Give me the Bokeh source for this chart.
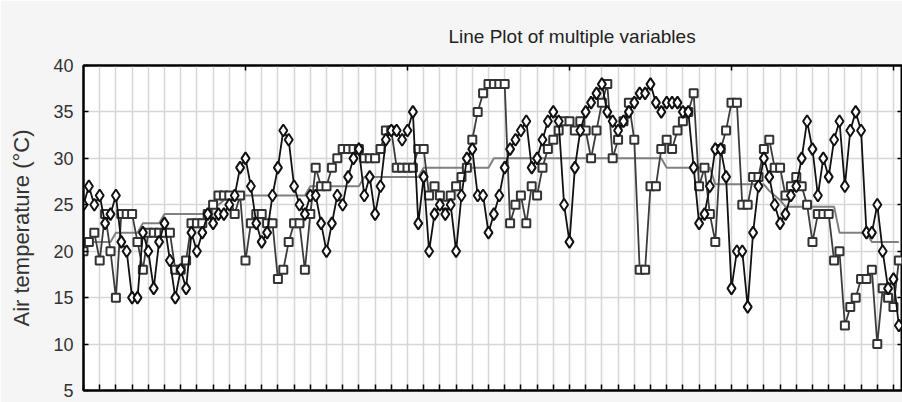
from bokeh.plotting import figure
from bokeh.models import LinearAxis, SingleIntervalTicker, FixedTicker, Range1d
from bokeh.embed import file_html
from bokeh.resources import INLINE

# ---- data ----
series_diamond = [
    25, 27, 25, 26, 23, 24, 26, 21, 20, 15, 15, 22, 20, 16, 21, 23, 19, 15, 18, 16,
    22, 20, 22, 24, 23, 24, 24, 25, 26, 29, 30, 27, 23, 21, 22, 26, 29, 33, 32, 27,
    25, 24, 26, 26, 23, 20, 23, 26, 25, 28, 30, 31,
    26, 28, 24, 27, 32, 33, 33, 32, 33, 35, 23, 28, 20, 24, 25, 24, 25, 20, 26, 30,
    31, 26, 26, 22, 24, 26, 29, 31, 32, 33, 34, 29, 30, 32, 34, 35, 34, 25, 21, 29,
    33, 35, 36, 37, 38, 35, 34, 33, 34, 35,
    36, 37, 37, 38, 36, 35, 36, 36, 36, 35, 35, 29, 23, 24, 27, 31, 31, 28, 16, 20,
    20, 14, 22, 27, 30, 28, 25, 23, 24, 26, 27, 30, 34, 31, 26, 30, 28, 32, 34, 27,
    33, 35, 33, 22, 22, 25, 20, 16, 17, 12,
]
series_square = [
    20, 21, 22, 19, 24, 20, 15, 24, 24, 24, 21, 18, 22, 22, 22, 22, 22, 18, 18, 19,
    23, 23, 23, 24, 25, 26, 26, 26, 24, 26, 19, 23, 24, 24, 23, 23, 17, 18, 21, 23,
    23, 18, 24, 29, 27, 27, 29, 30, 31, 31, 31, 31,
    30, 30, 30, 31, 33, 33, 29, 29, 29, 29, 31, 31, 26, 27, 26, 25, 26, 27, 28, 29,
    32, 35, 37, 38, 38, 38, 38, 23, 25, 26, 23, 27, 26, 29, 31, 32, 33, 34, 34, 33,
    34, 33, 30, 33, 36, 38, 30, 32, 34, 36,
    32, 18, 18, 27, 27, 31, 32, 31, 33, 34, 35, 37, 27, 29, 24, 21, 31, 33, 36, 36,
    25, 25, 28, 28, 31, 32, 29, 29, 26, 27, 28, 27, 25, 21, 24, 24, 24, 19, 20, 12,
    14, 15, 17, 17, 18, 10, 16, 15, 14, 19,
]
series_mean = (
    [21] * 6 + [22] * 5 + [23] * 4 + [24] * 8 + [24.5, 25, 25, 25.5]
    + [26] * 15 + [27] * 10 + [28] * 11 + [29] * 13 + [30] * 32 + [29] * 9
    + [27.2] * 10 + [26.5, 26, 25.5] + [24.8] * 10 + [22] * 6 + [21] * 6
)
days = list(range(len(series_diamond)))

y_ticks_step = 5
title_text = "Line Plot of multiple variables"
y_label = "Air temperature (°C)"

FONT = "Liberation Sans"
X_MAX = 151.67

p = figure(
    width=902, height=402,
    x_range=Range1d(0, X_MAX), y_range=Range1d(5, 40),
    output_backend="svg", toolbar_location=None,
    min_border_left=83, min_border_right=0, min_border_top=65, min_border_bottom=12,
    background_fill_color="white", border_fill_color="#f5f5f5",
)
p.outline_line_color = "black"
p.outline_line_width = 2

# title
p.title.text = title_text
p.title.text_font = FONT
p.title.text_font_size = "19px"
p.title.text_font_style = "normal"
p.title.text_color = "#222222"
p.title.align = "left"
p.title.offset = 365
p.title.standoff = 38

# bottom axis: ticks only (its labels are cut off in the reference)
grid_ticker = SingleIntervalTicker(interval=3, num_minor_ticks=0)
p.xaxis.ticker = FixedTicker(ticks=[], minor_ticks=list(range(0, 153, 3)))
p.xgrid.ticker = grid_ticker
p.xaxis.minor_tick_in = 6
p.xaxis.minor_tick_out = 0
p.xaxis.minor_tick_line_color = "black"
p.xaxis.minor_tick_line_width = 1.5
p.xaxis.major_label_standoff = 0
p.xaxis.axis_line_width = 2
p.xaxis.axis_line_color = "black"

# left axis
yt = SingleIntervalTicker(interval=y_ticks_step, num_minor_ticks=0)
p.yaxis.ticker = yt
p.ygrid.ticker = yt
p.yaxis.major_tick_in = 5
p.yaxis.major_tick_out = 0
p.yaxis.minor_tick_line_color = None
p.yaxis.major_label_standoff = 10
p.yaxis.major_label_text_font = FONT
p.yaxis.major_label_text_font_size = "18px"
p.yaxis.major_label_text_color = "#333333"
p.yaxis.axis_label = y_label
p.yaxis.axis_label_text_font = FONT
p.yaxis.axis_label_text_font_size = "22px"
p.yaxis.axis_label_text_font_style = "normal"
p.yaxis.axis_label_text_color = "#333333"
p.yaxis.axis_label_standoff = 16
p.yaxis.axis_line_width = 2
p.yaxis.major_tick_line_width = 1.5

# top axis with sparse tick marks only
top = LinearAxis(ticker=FixedTicker(ticks=[], minor_ticks=[30, 60, 90, 120, 150]),
                 minor_tick_in=5, minor_tick_out=0, minor_tick_line_width=1.5,
                 major_label_standoff=0, axis_line_width=2)
p.add_layout(top, "above")

# right axis with tick marks only
right = LinearAxis(ticker=FixedTicker(ticks=[], minor_ticks=[10, 15, 20, 25, 30, 35]),
                   minor_tick_in=5, minor_tick_out=0, minor_tick_line_width=1.5,
                   major_label_standoff=0, axis_line_width=2)
p.add_layout(right, "right")

p.xgrid.grid_line_color = "#d6d6d6"
p.xgrid.grid_line_width = 1.5
p.ygrid.grid_line_color = "#d6d6d6"
p.ygrid.grid_line_width = 1.5

# series
p.line(days, series_mean, line_color="#808080", line_width=2)
p.line(days, series_square, line_color="#3c3c3c", line_width=1.8)
p.scatter(days, series_square, marker="square", size=8, line_color="#333333",
          fill_color="white", line_width=2)
p.line(days, series_diamond, line_color="#111111", line_width=1.8)
p.scatter(days, series_diamond, marker="diamond", size=12, line_color="#111111",
          fill_color="white", line_width=2)

open("out.html", "w").write(file_html(p, INLINE))
